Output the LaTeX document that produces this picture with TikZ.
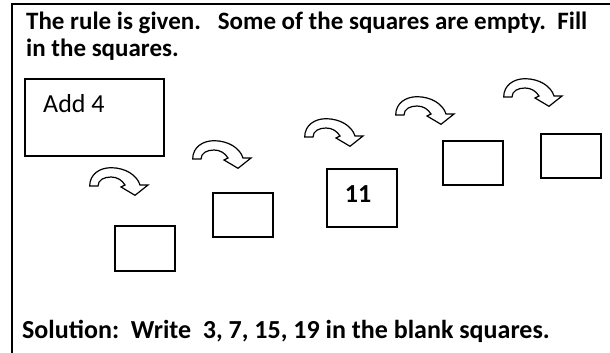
\documentclass[tikz,border=0pt]{standalone}
\usepackage{fontspec}
\setmainfont{Carlito}
\tikzset{
  blank/.style={draw, line width=1.2pt, inner sep=0pt},
  turn/.style={draw, fill=white, line width=1.2pt, line join=miter},
  txt/.style={anchor=base west, inner sep=0pt, font=\fontsize{25}{30}\selectfont\bfseries},
}
\begin{document}
\begin{tikzpicture}[x=1pt, y=-1pt]
  \useasboundingbox (0,0) rectangle (610,353);
  % frame
  \draw[line width=1.5pt] (12,353) -- (12,4) -- (610,4);
  \node[txt] (line1) at (26,29.5) {The rule is given.\ \ \ Some of the squares are empty.\ \ Fill};
  \node[txt] (line2) at (26,56.5) {in the squares.};
  % rule box
  \node[blank, minimum width=139pt, minimum height=77pt] (rule) at (94.5,117.5) {};
  \node[anchor=base west, inner sep=0pt, font=\fontsize{26}{30}\selectfont] (ruletxt) at (43,112) {Add 4};
  % squares
  \node[blank, minimum width=60pt, minimum height=45pt] (s1) at (145,248.5) {};
  \node[blank, minimum width=60pt, minimum height=44pt] (s2) at (243,215) {};
  \node[blank, minimum width=70pt, minimum height=58pt] (s3) at (362,198) {};
  \node[font=\fontsize{26}{30}\selectfont\bfseries, inner sep=0pt] (eleven) at (358,194) {11};
  \node[blank, minimum width=60pt, minimum height=44pt] (s4) at (473,163) {};
  \node[blank, minimum width=60pt, minimum height=44pt] (s5) at (571,156) {};
  % turning arrows
  \foreach \ax/\ay in {89/167,192/140,304/118,395/96,503/78}
    \draw[turn, shift={(\ax,\ay)}] (0.7,19) .. controls (0.7,7) and (11,0.7) .. (22,0.7)
      .. controls (36,0.7) and (48,8) .. (51,18) -- (59,18) -- (46,28.3) -- (32,20) -- (36,18)
      .. controls (33,13) and (28,10) .. (22,10) .. controls (15,10) and (9,13) .. (9,19) -- cycle;
  \node[txt, font=\fontsize{26}{30}\selectfont\bfseries] (solution) at (22,338) {Solution:\ \ Write\ \ 3, 7, 15, 19 in the blank squares.};
\end{tikzpicture}
\end{document}
